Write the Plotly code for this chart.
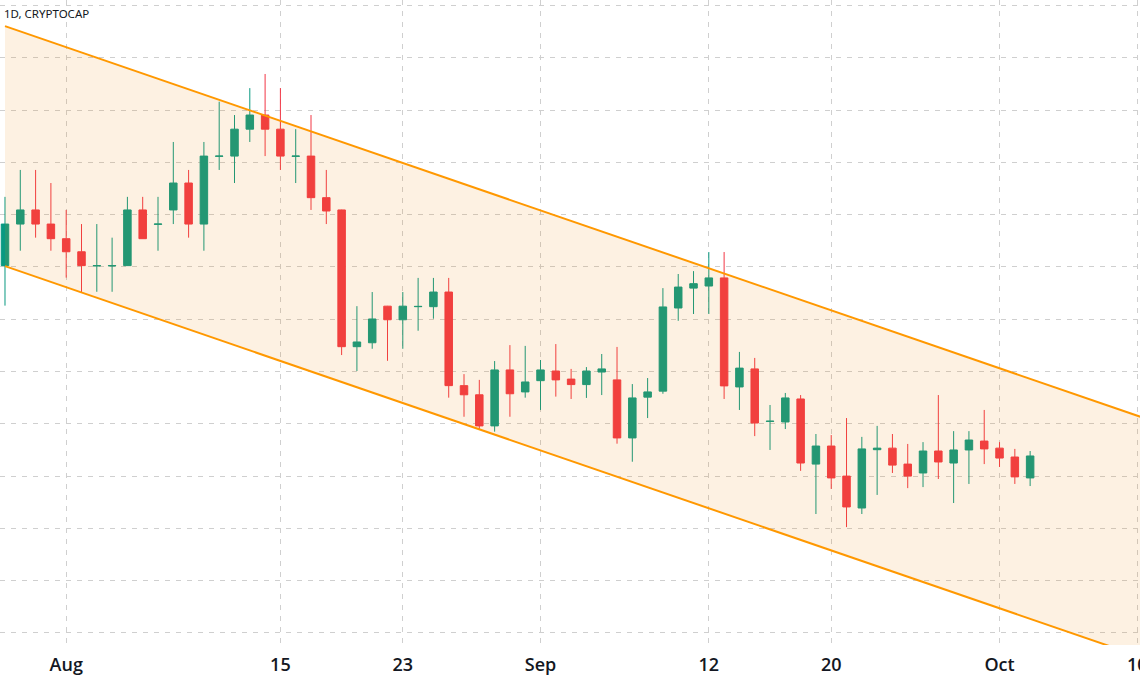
import plotly.graph_objects as go
import pandas as pd

# ---- data (arbitrary market-cap units) ----
start_date = "2022-07-28"
n_days = 68
dates = pd.date_range(start_date, periods=n_days, freq="D")

opens = [1020.5, 1036.4, 1041.8, 1036.4, 1030.8, 1025.8, 1020.4, 1020.4, 1020.5, 1041.8,
         1036.3, 1041.8, 1052.1, 1036.4, 1062.3, 1062.4, 1072.7, 1078.1, 1072.7, 1062.3,
         1062.4, 1046.5, 1041.8, 989.5, 991.0, 1005.0, 999.8, 1004.8, 1004.8, 1010.4,
         974.6, 971.1, 959.2, 980.6, 972.2, 976.5, 980.2, 977.1, 975.0, 979.8,
         976.8, 954.6, 970.2, 972.5, 1004.3, 1011.9, 1012.7, 1015.8, 974.1, 981.0,
         960.9, 960.7, 969.5, 944.6, 951.5, 940.0, 927.8, 950.1, 950.7, 944.6,
         941.2, 949.6, 945.0, 950.0, 953.4, 950.7, 947.3, 939.3]
highs = [1046.8, 1057.1, 1057.1, 1052.1, 1041.8, 1036.4, 1036.4, 1031.2, 1046.8, 1046.8,
         1046.8, 1067.8, 1057.1, 1067.8, 1083.2, 1078.1, 1088.4, 1093.8, 1088.4, 1072.7,
         1078.1, 1057.1, 1041.9, 1005.0, 1010.4, 1005.1, 1010.4, 1015.8, 1015.8, 1015.8,
         979.0, 976.8, 984.0, 990.1, 989.8, 984.4, 990.5, 981.0, 981.7, 986.7,
         989.4, 975.2, 977.5, 1011.9, 1017.3, 1018.4, 1025.7, 1025.7, 987.5, 985.2,
         967.2, 971.8, 971.0, 956.1, 955.7, 962.2, 955.0, 959.2, 956.1, 952.3,
         953.0, 971.0, 957.2, 957.2, 965.3, 953.0, 950.4, 949.6]
lows = [1005.2, 1026.2, 1031.2, 1026.2, 1015.9, 1010.3, 1010.5, 1010.5, 1020.5, 1030.8,
        1026.2, 1036.4, 1031.2, 1026.2, 1057.1, 1052.1, 1067.8, 1062.4, 1057.1, 1052.1,
        1041.8, 1036.4, 986.3, 980.2, 988.7, 984.1, 988.7, 995.6, 1000.2, 970.0,
        962.7, 958.0, 957.0, 962.7, 970.0, 965.3, 970.4, 969.5, 969.9, 971.0,
        952.4, 945.5, 962.2, 971.5, 999.4, 1002.0, 1002.0, 969.5, 965.3, 955.3,
        950.0, 958.0, 942.0, 925.5, 935.1, 920.5, 925.5, 932.8, 941.2, 935.4,
        935.8, 938.9, 929.7, 937.0, 944.6, 943.5, 937.0, 936.2]
closes = [1036.4, 1041.8, 1036.4, 1030.8, 1025.8, 1020.5, 1020.5, 1020.5, 1041.8, 1030.8,
          1036.4, 1052.1, 1036.4, 1062.4, 1062.4, 1072.7, 1078.1, 1072.7, 1062.4, 1062.4,
          1046.5, 1041.4, 989.5, 991.3, 1000.1, 999.8, 1005.0, 1004.9, 1010.4, 974.6,
          971.1, 959.2, 980.6, 971.5, 976.0, 980.6, 976.8, 975.0, 980.2, 981.0,
          954.6, 969.9, 972.2, 1004.7, 1012.3, 1013.6, 1015.8, 974.5, 981.3, 960.3,
          961.0, 969.9, 945.0, 951.5, 939.3, 928.2, 950.4, 950.7, 944.2, 940.0,
          949.6, 945.4, 950.0, 953.8, 950.4, 946.9, 939.7, 947.7]

# channel (parallel descending trend lines)
channel_dates = ["2022-07-28", "2022-10-12"]
channel_upper = [1112.1, 959.1]
channel_lower = [1020.3, 867.3]

tick_dates = ["2022-08-01", "2022-08-15", "2022-08-23", "2022-09-01",
              "2022-09-12", "2022-09-20", "2022-10-01", "2022-10-10"]
tick_labels = ["Aug", "15", "23", "Sep", "12", "20", "Oct", "10"]

title_text = "1D, CRYPTOCAP"

# ---- styles ----
UP = "#089981"
DOWN = "#F23645"
ORANGE = "#FF9800"
GRID = "#cfcfcf"

fig = go.Figure()

# channel fill
fig.add_trace(go.Scatter(
    x=[channel_dates[0], channel_dates[1], channel_dates[1], channel_dates[0]],
    y=[channel_upper[0], channel_upper[1], channel_lower[1], channel_lower[0]],
    fill="toself", fillcolor="rgba(242,140,20,0.12)",
    line=dict(width=0), mode="lines", hoverinfo="skip", showlegend=False))

for ys in (channel_upper, channel_lower):
    fig.add_trace(go.Scatter(x=channel_dates, y=ys, mode="lines",
                             line=dict(color=ORANGE, width=2),
                             hoverinfo="skip", showlegend=False))

fig.add_trace(go.Candlestick(
    x=dates, open=opens, high=highs, low=lows, close=closes,
    increasing=dict(line=dict(color=UP, width=1), fillcolor=UP),
    decreasing=dict(line=dict(color=DOWN, width=1), fillcolor=DOWN),
    whiskerwidth=0, showlegend=False))

fig.update_layout(
    width=1140, height=684,
    margin=dict(l=0, r=0, t=0, b=39, autoexpand=False),
    paper_bgcolor="white", plot_bgcolor="white",
    showlegend=False,
    xaxis=dict(
        type="date",
        range=["2022-07-27 16:10", "2022-10-10 04:20"],
        rangeslider=dict(visible=False),
        tickmode="array", tickvals=tick_dates, ticktext=tick_labels,
        showgrid=True, gridcolor=GRID, griddash="5px,6px", gridwidth=1,
        showline=False, zeroline=False, ticks="", automargin=False,
        ticklabeloverflow="allow", ticklabelstandoff=7,
        tickfont=dict(family="Open Sans", size=18, color="#131722", weight=600),
    ),
    yaxis=dict(
        range=[875.4, 1122.1],
        tick0=880, dtick=20, automargin=False,
        showgrid=True, gridcolor=GRID, griddash="5px,6px", gridwidth=1,
        showticklabels=False, showline=False, zeroline=False, ticks="",
    ),
    annotations=[dict(
        text=title_text, xref="paper", yref="paper", x=0, y=1,
        xanchor="left", yanchor="middle", xshift=2, yshift=-13.5,
        showarrow=False,
        font=dict(family="Noto Sans", size=11.5, color="#131722"))],
)

fig.write_html("out.html")
